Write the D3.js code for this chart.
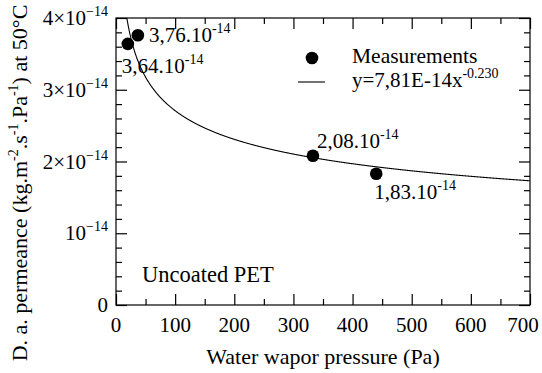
<!DOCTYPE html>
<html>
<head>
<meta charset="utf-8">
<script src="https://cdn.jsdelivr.net/npm/d3@7"></script>
<style>
  html, body { margin: 0; padding: 0; background: #fff; }
  svg { display: block; }
</style>
</head>
<body>
<svg id="chart" width="542" height="373"></svg>
<script>
// Measured permeance vs water vapour pressure (uncoated PET, 50°C)
const pressure = [20, 37, 333, 440];               // Pa
const permeance = [3.64e-14, 3.76e-14, 2.08e-14, 1.83e-14];
const pointLabels = ["3,64", "3,76", "2,08", "1,83"];

// Power-law fit y = a * x^b
const fitA = 7.81e-14;
const fitB = -0.230;

const xTicks = [0, 100, 200, 300, 400, 500, 600, 700];
const yTicks = [0, 1e-14, 2e-14, 3e-14, 4e-14];
const yTickLabels = [["0", ""], ["10", "−14"], ["2×10", "−14"], ["3×10", "−14"], ["4×10", "−14"]];

const FONT = "'Liberation Serif', 'Times New Roman', Tinos, serif";
const W = 542, H = 373;
const m = { left: 116, top: 18, right: 12, bottom: 68 };
const pw = W - m.left - m.right, ph = H - m.top - m.bottom;

const svg = d3.select("#chart");
const g = svg.append("g").attr("transform", `translate(${m.left},${m.top})`);

const x = d3.scaleLinear().domain([0, 700]).range([0, pw]);
const y = d3.scaleLinear().domain([0, 4e-14]).range([ph, 0]);

const xMinor = d3.range(50, 700, 100);
const yMinor = d3.range(0, 4e-14 + 1e-16, 0.2e-14).filter(v => Math.abs(v / 1e-14 - Math.round(v / 1e-14)) > 1e-6);

function txt(sel, size) {
  return sel.append("text").style("font-family", FONT).attr("font-size", size);
}

// Frame
g.append("rect").attr("width", pw).attr("height", ph)
  .attr("fill", "none").attr("stroke", "#000").attr("stroke-width", 1.2);

// Inward-pointing ticks on all four sides
function ticks(sel, axisFn, scale, values, size) {
  sel.call(axisFn(scale).tickValues(values).tickSizeInner(-size).tickSizeOuter(0).tickFormat(""))
    .call(s => s.select(".domain").remove())
    .call(s => s.selectAll("line").attr("stroke", "#000").attr("stroke-width", 1.2));
}
ticks(g.append("g").attr("transform", `translate(0,${ph})`), d3.axisBottom, x, xTicks, 11);
ticks(g.append("g").attr("transform", `translate(0,${ph})`), d3.axisBottom, x, xMinor, 6);
ticks(g.append("g"), d3.axisTop, x, xTicks, 11);
ticks(g.append("g"), d3.axisTop, x, xMinor, 6);
ticks(g.append("g"), d3.axisLeft, y, yTicks, 11);
ticks(g.append("g"), d3.axisLeft, y, yMinor, 6);
ticks(g.append("g").attr("transform", `translate(${pw},0)`), d3.axisRight, y, yTicks, 11);
ticks(g.append("g").attr("transform", `translate(${pw},0)`), d3.axisRight, y, yMinor, 6);

// X tick labels (last one nudged inside the page edge)
xTicks.forEach(v => {
  txt(g, 21).attr("x", x(v) + (v === 700 ? -7 : 0)).attr("y", ph + 27)
    .attr("text-anchor", "middle").text(v);
});

// Y tick labels with superscript exponent
yTicks.forEach((v, i) => {
  const t = txt(g, 21).attr("x", -8).attr("y", y(v) + 7).attr("text-anchor", "end");
  t.append("tspan").text(yTickLabels[i][0]);
  if (yTickLabels[i][1]) t.append("tspan").attr("dy", -9).attr("font-size", 14).text(yTickLabels[i][1]);
});

// Fitted curve
const fitX = d3.range(1, 700.5, 0.5);
const line = d3.line().x(d => x(d)).y(d => y(fitA * Math.pow(d, fitB)));
svg.append("clipPath").attr("id", "plotclip")
  .append("rect").attr("width", pw).attr("height", ph);
g.append("path").datum(fitX).attr("d", line)
  .attr("clip-path", "url(#plotclip)")
  .attr("fill", "none").attr("stroke", "#000").attr("stroke-width", 1.1);

// Measurement points
g.selectAll(".pt").data(pressure).join("circle")
  .attr("cx", d => x(d)).attr("cy", (d, i) => y(permeance[i])).attr("r", 6.3).attr("fill", "#000");

// Value annotations
const labelOffsets = [[-6, 29], [11, 7], [4, -8], [-2, 25]];
pressure.forEach((p, i) => {
  const t = txt(g, 21)
    .attr("x", x(p) + labelOffsets[i][0])
    .attr("y", y(permeance[i]) + labelOffsets[i][1]);
  t.append("tspan").text(pointLabels[i] + ".10");
  t.append("tspan").attr("dy", -9).attr("font-size", 14).text("-14");
});

// Legend
g.append("circle").attr("cx", 312 - m.left).attr("cy", 58 - m.top).attr("r", 6.3).attr("fill", "#000");
txt(g, 21.5).attr("x", 352 - m.left).attr("y", 63 - m.top).text("Measurements");
g.append("line").attr("x1", 298 - m.left).attr("x2", 325 - m.left)
  .attr("y1", 82 - m.top).attr("y2", 82 - m.top).attr("stroke", "#000").attr("stroke-width", 1.1);
const lt = txt(g, 21).attr("x", 352 - m.left).attr("y", 86.5 - m.top);
lt.append("tspan").text("y=7,81E-14x");
lt.append("tspan").attr("dy", -9).attr("font-size", 14).text("-0.230");

// Sample label
txt(g, 22.5).attr("x", 142 - m.left).attr("y", 282 - m.top).text("Uncoated PET");

// Axis titles
txt(svg, 22).attr("x", m.left + pw / 2).attr("y", 364)
  .attr("text-anchor", "middle").text("Water wapor pressure (Pa)");

const yt = txt(svg, 22)
  .attr("transform", `translate(27,${183}) rotate(-90)`)
  .attr("text-anchor", "middle");
yt.append("tspan").text("D. a. permeance (kg.m");
yt.append("tspan").attr("dy", -9).attr("font-size", 14).text("-2");
yt.append("tspan").attr("dy", 9).text(".s");
yt.append("tspan").attr("dy", -9).attr("font-size", 14).text("-1");
yt.append("tspan").attr("dy", 9).text(".Pa");
yt.append("tspan").attr("dy", -9).attr("font-size", 14).text("-1");
yt.append("tspan").attr("dy", 9).text(") at 50°C");
</script>
</body>
</html>
